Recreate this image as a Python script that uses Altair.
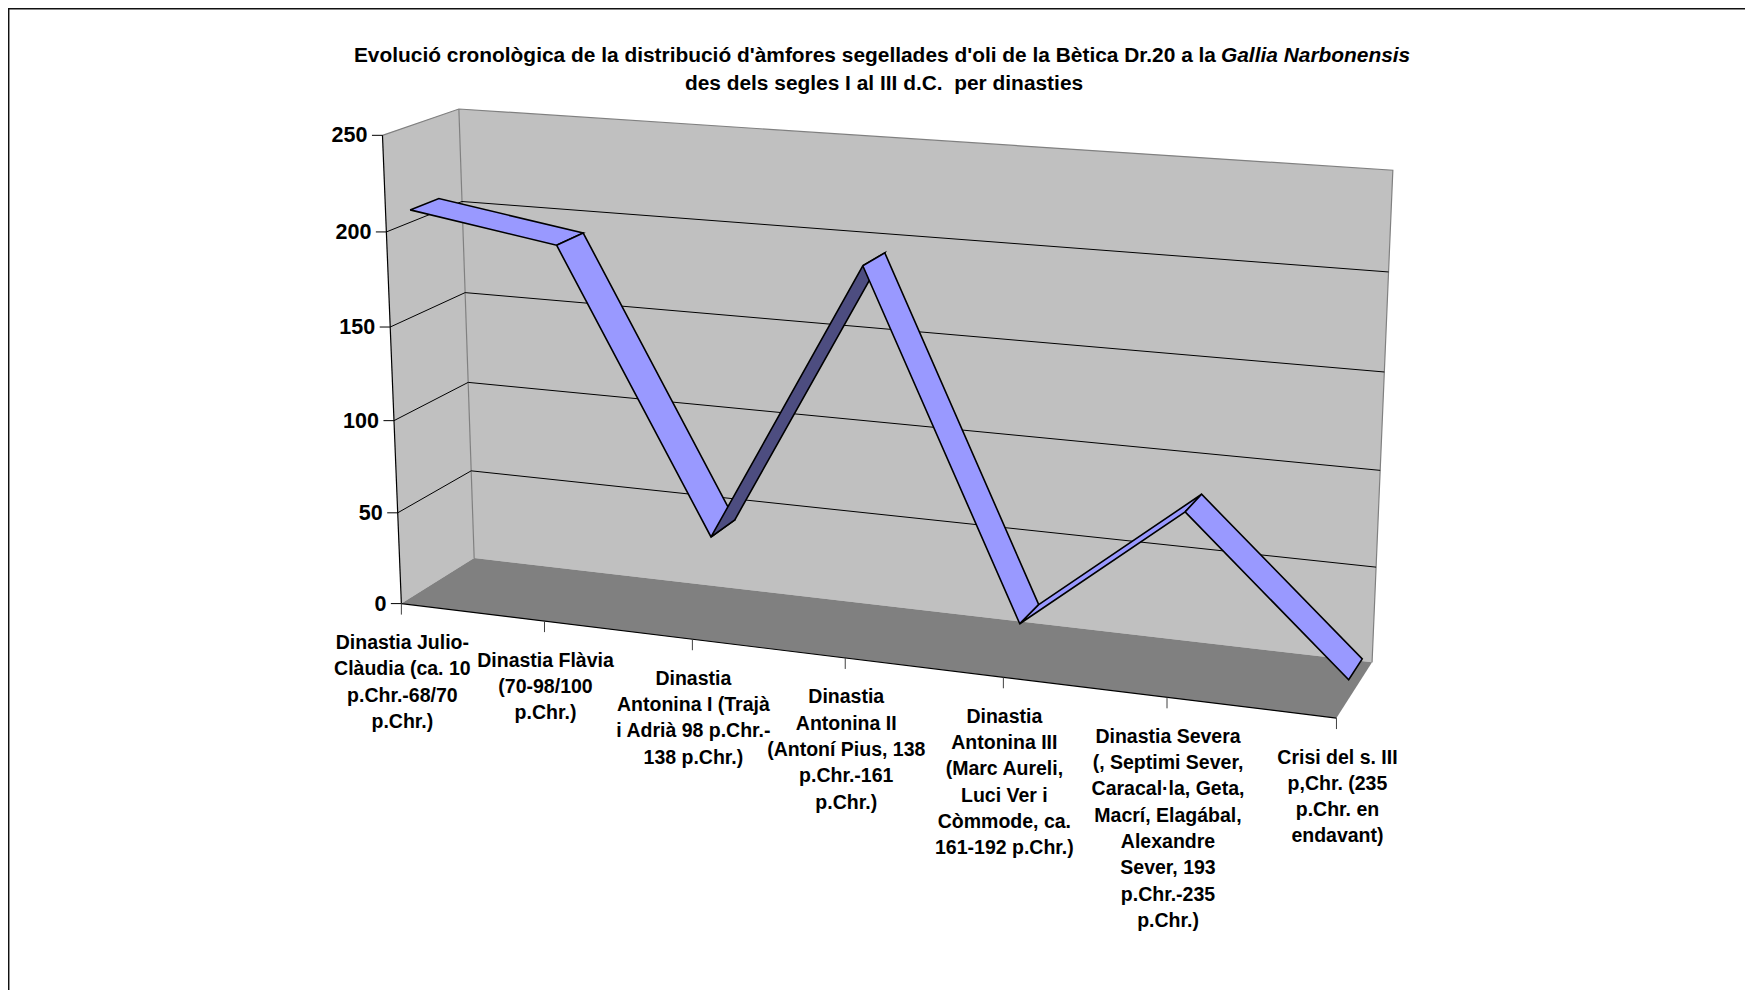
import altair as alt
import numpy as np
import pandas as pd

# ---- data ----
categories = [
    ["Dinastia Julio-", "Clàudia (ca. 10", "p.Chr.-68/70", "p.Chr.)"],
    ["Dinastia Flàvia", "(70-98/100", "p.Chr.)"],
    ["Dinastia", "Antonina I (Trajà", "i Adrià 98 p.Chr.-", "138 p.Chr.)"],
    ["Dinastia", "Antonina II", "(Antoní Pius, 138", "p.Chr.-161", "p.Chr.)"],
    ["Dinastia", "Antonina III", "(Marc Aureli,", "Luci Ver i", "Còmmode, ca.", "161-192 p.Chr.)"],
    ["Dinastia Severa", "(, Septimi Sever,", "Caracal·la, Geta,", "Macrí, Elagábal,", "Alexandre", "Sever, 193", "p.Chr.-235", "p.Chr.)"],
    ["Crisi del s. III", "p,Chr. (235", "p.Chr. en", "endavant)"],
]
values = [206.5, 194, 47, 196, 19.5, 86.5, 10.5]
y_ticks = [0, 50, 100, 150, 200, 250]
title_line1 = "Evolució cronològica de la distribució d'àmfores segellades d'oli de la Bètica Dr.20 a la"
title_italic = "Gallia Narbonensis"
title_line2 = "des dels segles I al III d.C.\u00a0 per dinasties"

# ---- camera of the 3-D box: (category, value, depth) -> page pixel ----
calib_world = [
    (0, 250, 0), (0, 200, 0), (0, 150, 0), (0, 100, 0), (0, 50, 0), (0, 0, 0),
    (0, 250, 1), (0, 200, 1), (0, 150, 1), (0, 100, 1), (0, 50, 1), (0, 0, 1),
    (6, 250, 1), (6, 200, 1), (6, 50, 1), (6, 0, 1), (6, 0, 0),
    (1, 0, 0), (2, 0, 0), (3, 0, 0), (4, 0, 0), (5, 0, 0),
]
calib_page = [
    (382.7, 135.7), (386.5, 232.3), (389.6, 326), (394, 420), (397.7, 511.7), (401.7, 604),
    (458.5, 109), (462.3, 201.3), (465.4, 292.7), (467.7, 383.3), (471, 471.7), (474.3, 557.3),
    (1393, 170.7), (1388.5, 271.7), (1376.7, 566), (1371.7, 662.3), (1336, 718.3),
    (545, 621.5), (691.7, 639.4), (845.4, 658), (1004, 677.5), (1166.7, 698),
]
A, b = [], []
for (X, Y, Z), (u, v) in zip(calib_world, calib_page):
    A.append([X, Y, Z, 1, 0, 0, 0, 0, -u * X, -u * Y, -u * Z]); b.append(u)
    A.append([0, 0, 0, 0, X, Y, Z, 1, -v * X, -v * Y, -v * Z]); b.append(v)
sol = np.linalg.lstsq(np.array(A, float), np.array(b, float), rcond=None)[0]
P = np.append(sol, 1.0).reshape(3, 4)


def proj(cat, val, depth):
    h = P @ np.array([cat, val, depth, 1.0])
    return float(h[0] / h[2]), float(h[1] / h[2])


PAGE_H, M = 990, 8
RIGHT = 1745  # the page body ends here: a wider picture would be shrunk to fit
xs = alt.Scale(domain=[M, RIGHT], range=[0, RIGHT - M], nice=False, zero=False)
ys = alt.Scale(domain=[PAGE_H, M], range=[PAGE_H - M, 0], nice=False, zero=False)
X = alt.X("x:Q", scale=xs, axis=None)
Y = alt.Y("y:Q", scale=ys, axis=None)


def path(points, stroke="#000000", width=1.0, fill=None):
    df = pd.DataFrame({"x": [p[0] for p in points], "y": [p[1] for p in points], "i": range(len(points))})
    kw = dict(stroke=stroke, strokeWidth=width, strokeJoin="miter", clip=False)
    if fill:
        kw["fill"] = fill
    return alt.Chart(df).mark_line(**kw).encode(x=X, y=Y, order="i:Q")


def poly(points, fill, stroke="#000000", width=0.0):
    return path(list(points) + [points[0]], stroke=stroke, width=width, fill=fill)


def text(rows, size, align="center", style="normal"):
    return alt.Chart(pd.DataFrame(rows)).mark_text(
        font="Liberation Sans", fontWeight="bold", fontStyle=style, fontSize=size,
        align=align, baseline="middle", color="#000000",
    ).encode(x=X, y=Y, text="t:N")


layers = []
N = len(values) - 1
VMAX = max(y_ticks)
WALL, FLOOR, EDGE = "#C0C0C0", "#808080", "#808080"
TOP, UNDER = "#9999FF", "#4D4D80"

# walls and floor
layers.append(poly([proj(0, VMAX, 0), proj(0, VMAX, 1), proj(0, 0, 1), proj(0, 0, 0)], WALL))
layers.append(poly([proj(0, VMAX, 1), proj(N, VMAX, 1), proj(N, 0, 1), proj(0, 0, 1)], WALL))
layers.append(poly([proj(0, 0, 0), proj(0, 0, 1), proj(N, 0, 1), proj(N, 0, 0)], FLOOR))
layers.append(path([proj(0, VMAX, 0), proj(0, VMAX, 1), proj(N, VMAX, 1), proj(N, 0, 1)], stroke=EDGE, width=1.2))
layers.append(path([proj(0, VMAX, 1), proj(0, 0, 1)], stroke=EDGE, width=1.2))

# value gridlines, ticks and labels
for v in y_ticks:
    fx, fy = proj(0, v, 0)
    if 0 < v < VMAX:
        layers.append(path([proj(0, v, 0), proj(0, v, 1), proj(N, v, 1)], stroke="#000000", width=1))
    layers.append(path([(fx - 10.5, fy), (fx, fy)], stroke="#000000", width=1))
layers.append(text([{"x": proj(0, v, 0)[0] - 15, "y": proj(0, v, 0)[1] + 1, "t": str(v)} for v in y_ticks], 21.5, align="right"))

# axis lines
layers.append(path([proj(0, VMAX, 0), proj(0, 0, 0)], stroke="#000000", width=1.2))
layers.append(path([proj(0, 0, 0), proj(N, 0, 0)], stroke="#000000", width=1.2))

# category ticks and labels
LINE_H = 26.3
rows = []
for c, lines in enumerate(categories):
    tx, ty = proj(c, 0, 0)
    layers.append(path([(tx, ty), (tx, ty + 11)], stroke="#404040", width=1))
    for k, line in enumerate(lines):
        rows.append({"x": tx + 1, "y": ty + 39.5 + k * LINE_H, "t": line})
layers.append(text(rows, 19.5))

# ribbon
Z_FRONT, Z_BACK = 0.31, 0.69
for c in range(N):
    a, b_ = proj(c, values[c], Z_FRONT), proj(c + 1, values[c + 1], Z_FRONT)
    d, e = proj(c, values[c], Z_BACK), proj(c + 1, values[c + 1], Z_BACK)
    cross = (b_[0] - a[0]) * (d[1] - a[1]) - (b_[1] - a[1]) * (d[0] - a[0])
    layers.append(poly([a, b_, e, d], TOP if cross < 0 else UNDER, width=1.6))

# title
SPLIT = 1221
TITLE_SIZE = 20.9
layers.append(text([{"x": SPLIT - 5, "y": 55.5, "t": title_line1}], TITLE_SIZE, align="right"))
layers.append(text([{"x": SPLIT, "y": 55.5, "t": title_italic}], TITLE_SIZE, align="left", style="italic"))
layers.append(text([{"x": 884, "y": 83.5, "t": title_line2}], TITLE_SIZE))

# outer frame (runs off the right and bottom of the page)
layers.append(path([(M + 0.7, PAGE_H), (M + 0.7, M + 0.7), (RIGHT, M + 0.7)], stroke="#111111", width=1.5))

chart = alt.layer(*layers).properties(
    width=RIGHT - M, height=PAGE_H - M, padding=0,
    autosize=alt.AutoSizeParams(type="none"),
    background="#FFFFFF",
).configure_view(stroke=None)

chart.save("out.html", embed_options={"renderer": "svg", "actions": False})
